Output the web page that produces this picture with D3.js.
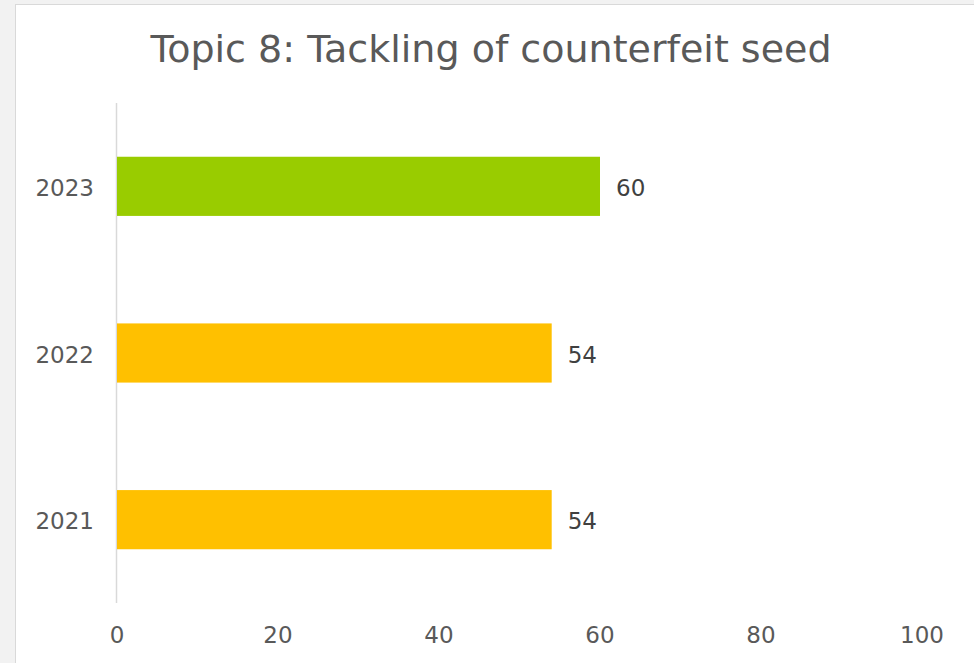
<!DOCTYPE html>
<html><head><meta charset="utf-8">
<script src="https://cdn.jsdelivr.net/npm/d3@7"></script>
<style>html,body{margin:0;padding:0;background:#f2f2f2;}svg{display:block;}</style>
</head><body>
<script>
const categories = ["2023", "2022", "2021"];
const values = [60, 54, 54];
const barColors = ["#99cc00", "#ffc000", "#ffc000"];
const xTicks = [0, 20, 40, 60, 80, 100];
const title = "Topic 8: Tackling of counterfeit seed";

const W = 974, H = 663;
const svg = d3.select("body").append("svg").attr("width", W).attr("height", H);
svg.append("rect").attr("x", 0).attr("y", 0).attr("width", W).attr("height", H).attr("fill", "#f2f2f2");
svg.append("rect").attr("x", 15.5).attr("y", 4.5).attr("width", 960).attr("height", 700)
  .attr("fill", "#fff").attr("stroke", "#d9d9d9").attr("stroke-width", 1);

const font = "'DejaVu Sans', Verdana, sans-serif";
svg.append("text").attr("x", 491).attr("y", 62).attr("text-anchor", "middle")
  .attr("font-family", font).attr("font-size", 38).attr("fill", "#595959").text(title);

const x = d3.scaleLinear().domain([0, 100]).range([117, 922]);
const y = d3.scaleBand().domain(categories).range([103, 603]).paddingInner(0.645).paddingOuter(0.3225);

svg.append("line").attr("x1", 116.5).attr("x2", 116.5).attr("y1", 103).attr("y2", 603)
  .attr("stroke", "#d9d9d9").attr("stroke-width", 1.5);

svg.selectAll("rect.bar").data(categories).enter().append("rect").attr("class", "bar")
  .attr("x", x(0)).attr("y", d => y(d)).attr("width", (d, i) => x(values[i]) - x(0))
  .attr("height", y.bandwidth()).attr("fill", (d, i) => barColors[i]);

svg.selectAll("text.val").data(categories).enter().append("text").attr("class", "val")
  .attr("x", (d, i) => x(values[i]) + 16).attr("y", d => y(d) + y.bandwidth() / 2 + 9.5)
  .attr("font-family", font).attr("font-size", 23).attr("fill", "#404040")
  .text((d, i) => values[i]);

svg.selectAll("text.cat").data(categories).enter().append("text").attr("class", "cat")
  .attr("x", 94).attr("y", d => y(d) + y.bandwidth() / 2 + 9.5).attr("text-anchor", "end")
  .attr("font-family", font).attr("font-size", 23).attr("fill", "#595959").text(d => d);

svg.selectAll("text.tick").data(xTicks).enter().append("text").attr("class", "tick")
  .attr("x", d => x(d)).attr("y", 643).attr("text-anchor", "middle")
  .attr("font-family", font).attr("font-size", 23).attr("fill", "#595959").text(d => d);
</script>
</body></html>
